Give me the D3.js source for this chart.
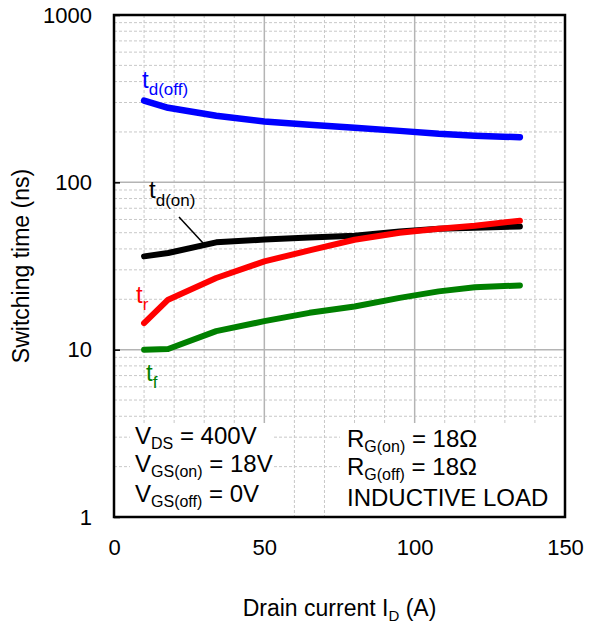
<!DOCTYPE html>
<html><head><meta charset="utf-8">
<script src="https://cdn.jsdelivr.net/npm/d3@7"></script>
<style>body{margin:0;background:#fff}svg{display:block}text{font-family:"Liberation Sans",Arial,sans-serif}</style>
</head><body><div id="chart"></div>
<script>
const current = [10, 18, 34, 50, 65, 80, 95, 108, 120, 135];
const tdOff = [308, 279, 250, 231, 221, 212, 203, 195, 190, 186];
const tdOn = [36.1, 37.8, 43.8, 45.5, 46.8, 48.0, 50.8, 52.8, 53.6, 54.5];
const tRise = [14.4, 19.9, 26.8, 33.7, 39.2, 45.4, 50.0, 52.8, 55.1, 59.0];
const tFall = [10.0, 10.1, 12.9, 14.8, 16.6, 18.1, 20.4, 22.3, 23.6, 24.2];
const xTicks = [0, 50, 100, 150];
const yTicks = [1, 10, 100, 1000];

const W = 593, H = 626;
const L = 114, R = 565, T = 15, B = 517;
const svg = d3.select("#chart").append("svg").attr("width", W).attr("height", H);
const x = d3.scaleLinear().domain([0, 150]).range([L, R]);
const y = d3.scaleLog().domain([1, 1000]).range([B, T]);

// grid
const g = svg.append("g");
const minorX = d3.range(10, 150, 10).filter(v => v % 50 !== 0);
g.selectAll(".mx").data(minorX).join("line")
  .attr("x1", d => x(d)).attr("x2", d => x(d)).attr("y1", T).attr("y2", B)
  .attr("stroke", "#c8c8c8").attr("stroke-width", 1).attr("stroke-dasharray", "3,2");
const minorY = [];
[1, 10, 100].forEach(dec => { for (let k = 2; k <= 9; k++) minorY.push(dec * k); });
g.selectAll(".my").data(minorY).join("line")
  .attr("x1", L).attr("x2", R).attr("y1", d => y(d)).attr("y2", d => y(d))
  .attr("stroke", "#c8c8c8").attr("stroke-width", 1).attr("stroke-dasharray", "3,2");
g.selectAll(".Mx").data([50, 100]).join("line")
  .attr("x1", d => x(d)).attr("x2", d => x(d)).attr("y1", T).attr("y2", B)
  .attr("stroke", "#b4b4b4").attr("stroke-width", 1.5);
g.selectAll(".My").data([10, 100]).join("line")
  .attr("x1", L).attr("x2", R).attr("y1", d => y(d)).attr("y2", d => y(d))
  .attr("stroke", "#b4b4b4").attr("stroke-width", 1.5);

// series
const series = [
  {v: tdOff, c: "#0000ff", w: 6.5},
  {v: tdOn, c: "#000000", w: 6},
  {v: tRise, c: "#ff0000", w: 6},
  {v: tFall, c: "#008000", w: 6}
];
const line = d3.line().x(d => x(d[0])).y(d => y(d[1])).curve(d3.curveLinear);
series.forEach(s => {
  svg.append("path").datum(current.map((c, i) => [c, s.v[i]]))
    .attr("d", line).attr("fill", "none").attr("stroke", s.c)
    .attr("stroke-width", s.w).attr("stroke-linecap", "round").attr("stroke-linejoin", "round");
});

// annotation boxes
svg.append("rect").attr("x", 130).attr("y", 423).attr("width", 143).attr("height", B - 423).attr("fill", "#fff");
svg.append("rect").attr("x", 340).attr("y", 423).attr("width", R - 340).attr("height", B - 423).attr("fill", "#fff");

// frame
svg.append("rect").attr("x", L).attr("y", T).attr("width", R - L).attr("height", B - T)
  .attr("fill", "none").attr("stroke", "#000").attr("stroke-width", 2.5);

// axes
const xAxis = d3.axisBottom(x).tickValues(xTicks).tickSize(0).tickPadding(22);
const xa = svg.append("g").attr("transform", `translate(0,${B})`).call(xAxis);
xa.select(".domain").remove();
xa.selectAll("text").attr("font-size", 22).attr("fill", "#000").attr("font-family", "Liberation Sans, Arial, sans-serif");
const yAxis = d3.axisLeft(y).tickValues(yTicks).tickFormat(d3.format("d")).tickSize(-6).tickPadding(22);
const ya = svg.append("g").attr("transform", `translate(${L},0)`).call(yAxis);
ya.select(".domain").remove();
ya.selectAll("line").attr("stroke", "#000").attr("stroke-width", 1.5);
ya.selectAll("text").attr("font-size", 22).attr("fill", "#000").attr("font-family", "Liberation Sans, Arial, sans-serif");

// titles
const xt = svg.append("text").attr("x", (L + R) / 2).attr("y", 616).attr("text-anchor", "middle").attr("font-size", 23);
xt.append("tspan").text("Drain current I");
xt.append("tspan").text("D").attr("font-size", 15).attr("dy", 5);
xt.append("tspan").text(" (A)").attr("dy", -5);
svg.append("text").attr("transform", `translate(29,${(T + B) / 2}) rotate(-90)`)
  .attr("text-anchor", "middle").attr("font-size", 23).text("Switching time (ns)");

function label(px, py, main, sub, color, size, subSize, shift) {
  const t = svg.append("text").attr("x", px).attr("y", py).attr("fill", color).attr("font-size", size);
  t.append("tspan").text(main);
  t.append("tspan").text(sub).attr("font-size", subSize).attr("dy", shift);
  return t;
}
label(142, 88, "t", "d(off)", "#0000ff", 24, 17, 7);
label(149, 198, "t", "d(on)", "#000000", 24, 17, 8);
label(136, 303, "t", "r", "#ff0000", 24, 17, 7);
label(146, 381, "t", "f", "#008000", 24, 17, 7);
svg.append("line").attr("x1", 179).attr("y1", 217).attr("x2", 203).attr("y2", 243)
  .attr("stroke", "#000").attr("stroke-width", 1.5);

function cond(px, py, main, sub, rest) {
  const t = svg.append("text").attr("x", px).attr("y", py).attr("font-size", 24).attr("fill", "#000");
  t.append("tspan").text(main);
  if (sub) {
    t.append("tspan").text(sub).attr("font-size", 16).attr("dy", 5);
    t.append("tspan").text(rest).attr("dy", -5);
  } else t.append("tspan").text(rest);
}
cond(135, 444, "V", "DS", " = 400V");
cond(135, 472, "V", "GS(on)", " = 18V");
cond(135, 502, "V", "GS(off)", " = 0V");
cond(347, 447, "R", "G(on)", " = 18Ω");
cond(347, 475, "R", "G(off)", " = 18Ω");
cond(347, 506, "", null, "INDUCTIVE LOAD");
</script></body></html>
